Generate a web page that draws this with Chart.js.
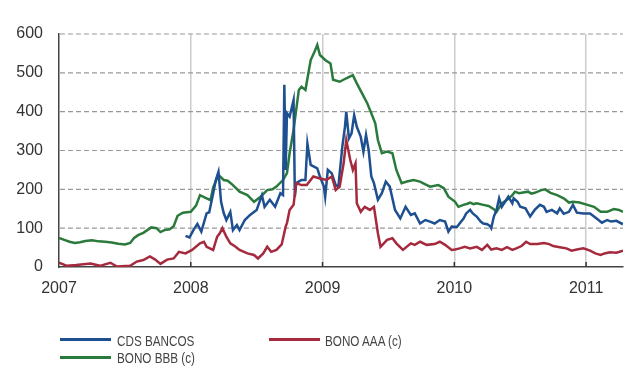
<!DOCTYPE html>
<html>
<head>
<meta charset="utf-8">
<script src="https://cdn.jsdelivr.net/npm/chart.js@4.4.0/dist/chart.umd.min.js"></script>
<style>
  body { margin: 0; background: #fff; }
  #wrap { position: relative; width: 630px; height: 369px; }
  .ln { position: absolute; width: 51px; height: 3px; }
  .tx { position: absolute; white-space: nowrap; font-family: 'Liberation Sans', Arial, sans-serif;
    font-size: 15px; line-height: 15px; color: #444; transform: scaleX(0.78); transform-origin: left center; }
</style>
</head>
<body>
<div id="wrap">
  <canvas id="chart" width="630" height="369"></canvas>
  <div class="ln" style="left:60px; top:338px; background:#1d4f91"></div>
  <div class="tx" style="left:117px; top:333px;">CDS BANCOS</div>
  <div class="ln" style="left:269px; top:338px; background:#a52a3e"></div>
  <div class="tx" style="left:325px; top:333px;">BONO AAA (c)</div>
  <div class="ln" style="left:60px; top:356px; background:#2a7a3b"></div>
  <div class="tx" style="left:117px; top:350px;">BONO BBB (c)</div>
</div>
<script>
// values (decimal year, basis points)
const yearTicks = [2007, 2008, 2009, 2010, 2011];
const valueTicks = [0, 100, 200, 300, 400, 500, 600];

const cdsYears = [2007.96, 2007.99, 2008.02, 2008.05, 2008.08, 2008.12, 2008.14, 2008.17, 2008.19, 2008.21, 2008.23, 2008.25, 2008.27, 2008.30, 2008.32, 2008.35, 2008.37, 2008.41, 2008.45, 2008.50, 2008.54, 2008.56, 2008.60, 2008.64, 2008.68, 2008.70, 2008.71, 2008.72, 2008.73, 2008.75, 2008.78, 2008.79, 2008.80, 2008.84, 2008.87, 2008.885, 2008.91, 2008.96, 2008.98, 2009.01, 2009.02, 2009.04, 2009.07, 2009.10, 2009.12, 2009.15, 2009.17, 2009.18, 2009.20, 2009.22, 2009.24, 2009.26, 2009.29, 2009.31, 2009.33, 2009.35, 2009.37, 2009.39, 2009.42, 2009.45, 2009.48, 2009.51, 2009.55, 2009.59, 2009.63, 2009.67, 2009.70, 2009.74, 2009.78,
  2009.816, 2009.85, 2009.89, 2009.93, 2009.955, 2009.98, 2010.02, 2010.04, 2010.07, 2010.09, 2010.12, 2010.14, 2010.17, 2010.20, 2010.22, 2010.25, 2010.27, 2010.28, 2010.30, 2010.32, 2010.34, 2010.36, 2010.385, 2010.41, 2010.44, 2010.45, 2010.48, 2010.50, 2010.54, 2010.575, 2010.61, 2010.65, 2010.68, 2010.70, 2010.74, 2010.78, 2010.80, 2010.83, 2010.87, 2010.90, 2010.93, 2010.98, 2011.03, 2011.08, 2011.12, 2011.16, 2011.19, 2011.23, 2011.28];
const cdsValues = [80, 76, 95, 111, 91, 138, 141, 190, 224, 245, 168, 139, 121, 142, 95, 108, 95, 121, 134, 147, 185, 155, 173, 155, 190, 185, 469, 250, 396, 387, 430, 181, 216, 224, 224, 318, 263, 254, 233, 207, 181, 250, 241, 211, 207, 310, 361, 400, 331, 344, 391, 361, 335, 297, 340, 301, 233, 216, 173, 190, 220, 207, 147, 125, 155, 134, 138, 112, 121,
  117, 112, 121, 117, 91, 104, 103, 112, 125, 138, 147, 138, 130, 117, 112, 110, 106, 100, 130, 147, 177, 155, 168, 181, 164, 177, 168, 155, 151, 130, 147, 160, 155, 142, 147, 138, 151, 137, 142, 160, 140, 138, 138, 125, 114, 121, 117, 119, 110];

const aaaYears = [2007.00, 2007.06, 2007.13, 2007.24, 2007.31, 2007.39, 2007.44, 2007.54, 2007.59, 2007.64, 2007.69, 2007.73, 2007.77, 2007.82, 2007.87, 2007.91, 2007.96, 2008.01, 2008.07, 2008.10, 2008.12, 2008.17, 2008.20, 2008.22, 2008.24, 2008.27, 2008.30, 2008.34, 2008.37, 2008.43, 2008.48, 2008.51, 2008.55, 2008.58, 2008.61, 2008.65, 2008.69, 2008.72, 2008.73, 2008.75, 2008.78, 2008.80, 2008.84, 2008.88, 2008.93, 2008.98, 2009.03, 2009.07, 2009.10, 2009.13, 2009.16, 2009.18, 2009.21, 2009.23, 2009.25, 2009.26, 2009.29, 2009.32, 2009.36, 2009.39, 2009.42, 2009.44, 2009.49, 2009.53, 2009.56, 2009.61, 2009.67, 2009.70, 2009.74, 2009.79,
  2009.85, 2009.89, 2009.93, 2009.98, 2010.006, 2010.04, 2010.08, 2010.12, 2010.17, 2010.21, 2010.25, 2010.28, 2010.32, 2010.36, 2010.40, 2010.44, 2010.47, 2010.51, 2010.545, 2010.575, 2010.63, 2010.68, 2010.72, 2010.75, 2010.80, 2010.85, 2010.89, 2010.93, 2010.98, 2011.03, 2011.07, 2011.11, 2011.14, 2011.18, 2011.23, 2011.28];
const aaaValues = [11, 3, 5, 9, 3, 11, 1, 3, 14, 18, 27, 19, 8, 19, 22, 39, 35, 44, 61, 65, 52, 44, 78, 87, 100, 78, 61, 52, 44, 35, 31, 22, 35, 52, 39, 44, 58, 104, 113, 147, 160, 216, 211, 211, 233, 228, 224, 233, 198, 207, 267, 327, 276, 250, 267, 164, 142, 155, 147, 155, 87, 52, 70, 74, 61, 44, 61, 57, 65, 57,
  59, 65, 57, 44, 45, 48, 52, 48, 52, 44, 57, 45, 48, 44, 51, 44, 48, 54, 65, 59, 59, 62, 59, 54, 51, 48, 42, 45, 48, 42, 35, 31, 35, 38, 37, 42];

const bbbYears = [2007.00, 2007.04, 2007.08, 2007.12, 2007.16, 2007.20, 2007.25, 2007.30, 2007.35, 2007.40, 2007.45, 2007.50, 2007.54, 2007.57, 2007.60, 2007.64, 2007.67, 2007.70, 2007.74, 2007.77, 2007.80, 2007.84, 2007.87, 2007.90, 2007.94, 2008.00, 2008.04, 2008.07, 2008.12, 2008.15, 2008.17, 2008.21, 2008.25, 2008.28, 2008.32, 2008.37, 2008.43, 2008.48, 2008.53, 2008.58, 2008.62, 2008.65, 2008.70, 2008.73, 2008.75, 2008.78, 2008.82, 2008.84, 2008.87, 2008.91, 2008.94, 2008.96, 2008.98, 2009.02, 2009.06, 2009.08, 2009.13, 2009.18, 2009.23, 2009.26, 2009.30, 2009.34, 2009.37, 2009.40, 2009.42, 2009.45, 2009.49, 2009.53, 2009.56, 2009.60, 2009.64, 2009.69, 2009.74, 2009.78,
  2009.816, 2009.85, 2009.879, 2009.92, 2009.955, 2010.006, 2010.031, 2010.069, 2010.10, 2010.12, 2010.145, 2010.17, 2010.22, 2010.26, 2010.30, 2010.32, 2010.36, 2010.40, 2010.44, 2010.46, 2010.49, 2010.51, 2010.56, 2010.585, 2010.61, 2010.66, 2010.69, 2010.73, 2010.78, 2010.83, 2010.87, 2010.90, 2010.95, 2011.01, 2011.06, 2011.11, 2011.16, 2011.21, 2011.25, 2011.28];
const bbbValues = [75, 70, 65, 62, 64, 67, 69, 66, 65, 63, 60, 58, 62, 75, 82, 88, 95, 102, 100, 90, 95, 97, 105, 132, 140, 142, 158, 185, 177, 172, 205, 237, 224, 222, 211, 194, 185, 168, 181, 198, 200, 207, 224, 242, 293, 353, 456, 464, 456, 533, 555, 572, 546, 533, 524, 482, 477, 486, 494, 473, 447, 421, 396, 370, 327, 293, 297, 293, 250, 216, 220, 224, 220, 213,
  207, 209, 211, 203, 181, 168, 155, 160, 163, 166, 162, 164, 160, 157, 149, 142, 164, 173, 185, 194, 190, 191, 194, 189, 191, 198, 200, 191, 185, 177, 166, 168, 166, 160, 155, 142, 142, 149, 147, 142];

function pts(xs, ys) { return xs.map((x, i) => ({ x: x, y: ys[i] })); }

// dashed horizontal grid and short inward ticks on the x axis
const axisExtras = {
  id: 'axisExtras',
  beforeDatasetsDraw(chart) {
    const ctx = chart.ctx, ys = chart.scales.y, area = chart.chartArea;
    ctx.save();
    ctx.strokeStyle = '#999999';
    ctx.lineWidth = 1.2;
    ctx.setLineDash([5, 3]);
    valueTicks.forEach(v => {
      if (v === 0) return;
      const py = ys.getPixelForValue(v);
      ctx.beginPath();
      ctx.moveTo(area.left + 1, py);
      ctx.lineTo(area.right, py);
      ctx.stroke();
    });
    ctx.restore();
  },
  afterDraw(chart) {
    const ctx = chart.ctx, xs = chart.scales.x, area = chart.chartArea;
    ctx.save();
    ctx.strokeStyle = '#333';
    ctx.lineWidth = 1.5;
    yearTicks.forEach(y => {
      if (y === 2007) return;
      const px = xs.getPixelForValue(y);
      ctx.beginPath();
      ctx.moveTo(px, area.bottom - 5);
      ctx.lineTo(px, area.bottom);
      ctx.stroke();
    });
    ctx.restore();
  }
};

new Chart(document.getElementById('chart'), {
  type: 'line',
  data: {
    datasets: [
      { label: 'BONO AAA (c)', data: pts(aaaYears, aaaValues), borderColor: '#a52a3e', borderWidth: 2.5, pointRadius: 0, tension: 0 },
      { label: 'CDS BANCOS', data: pts(cdsYears, cdsValues), borderColor: '#1d4f91', borderWidth: 2.5, pointRadius: 0, tension: 0 },
      { label: 'BONO BBB (c)', data: pts(bbbYears, bbbValues), borderColor: '#2a7a3b', borderWidth: 2.5, pointRadius: 0, tension: 0 }
    ]
  },
  options: {
    responsive: false,
    animation: false,
    layout: { padding: { top: 34, right: 7, bottom: 62, left: 0 } },
    plugins: { legend: { display: false }, tooltip: { enabled: false } },
    scales: {
      x: {
        type: 'linear', min: 2007, max: 2011.28,
        afterFit: s => { s.height = 40; },
        afterBuildTicks: s => { s.ticks = yearTicks.map(v => ({ value: v })); },
        ticks: { callback: v => String(v), font: { family: "'Liberation Sans', Arial, sans-serif", size: 16 }, color: '#333', padding: 12, maxRotation: 0 },
        grid: { drawTicks: false, color: ctx => ctx.tick && ctx.tick.value === 2007 ? 'rgba(0,0,0,0)' : '#cccccc', lineWidth: 1.5 },
        border: { display: true, color: '#444', width: 1.5 }
      },
      y: {
        min: 0, max: 600,
        afterFit: s => { s.width = 59; },
        afterBuildTicks: s => { s.ticks = valueTicks.map(v => ({ value: v })); },
        ticks: { font: { family: "'Liberation Sans', Arial, sans-serif", size: 16 }, color: '#333', padding: 16 },
        grid: { display: false, drawTicks: false },
        border: { display: true, color: '#444', width: 1.5 }
      }
    }
  },
  plugins: [axisExtras]
});
</script>
</body>
</html>
